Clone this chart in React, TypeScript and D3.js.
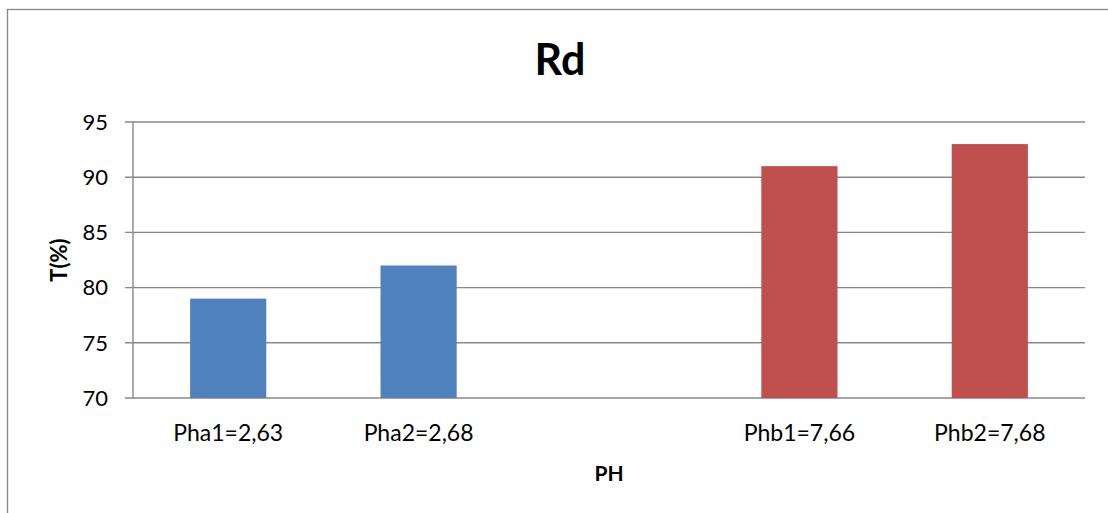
import React from "react";
import * as d3 from "d3";

// Transmittance readings per pH sample
const categories = ["Pha1=2,63", "Pha2=2,68", "", "Phb1=7,66", "Phb2=7,68"];
const acidValues: (number | null)[] = [79, 82, null, null, null];
const basicValues: (number | null)[] = [null, null, null, 91, 93];
const yTicks = [70, 75, 80, 85, 90, 95];

const chartTitle = "Rd";
const xTitle = "PH";
const yTitle = "T(%)";

const W = 1108;
const H = 513;
const plot = { left: 133, right: 1085, top: 122, bottom: 398 };
const FONT = "Lato, 'Open Sans', sans-serif";
const GRID = "#898989";

export default function App() {
  const x = d3
    .scaleBand<string>()
    .domain(categories)
    .range([plot.left, plot.right])
    .paddingInner(0.6)
    .paddingOuter(0.3);
  const y = d3.scaleLinear().domain([70, 95]).range([plot.bottom, plot.top]);

  const series = [
    { values: acidValues, color: "#4f81bd" },
    { values: basicValues, color: "#c0504d" },
  ];

  return (
    <svg
      width={W}
      height={H}
      style={{ position: "absolute", left: 0, top: 0, background: "#fff" }}
      fontFamily={FONT}
    >
      <rect x={7.5} y={9.5} width={W + 20} height={H + 20} fill="#fff" stroke="#868686" strokeWidth={1.3} />

      {/* gridlines and y ticks */}
      {yTicks.map((t) => (
        <g key={t}>
          <line x1={plot.left - 8} x2={plot.right} y1={y(t)} y2={y(t)} stroke={GRID} strokeWidth={1.4} />
          <text x={108} y={y(t)} dy="0.35em" textAnchor="end" fontSize={22} fill="#000">
            {t}
          </text>
        </g>
      ))}
      <line x1={plot.left} x2={plot.left} y1={plot.top} y2={plot.bottom} stroke={GRID} strokeWidth={1.4} />

      {/* bars */}
      {series.map((s, si) =>
        s.values.map((v, i) =>
          v == null ? null : (
            <rect
              key={`${si}-${i}`}
              x={x(categories[i])!}
              y={y(v)}
              width={x.bandwidth()}
              height={y(70) - y(v)}
              fill={s.color}
            />
          )
        )
      )}

      {/* category labels */}
      {categories.map((c) => (
        <text
          key={c || "gap"}
          x={x(c)! + x.bandwidth() / 2}
          y={441}
          textAnchor="middle"
          fontSize={23}
          fill="#000"
        >
          {c}
        </text>
      ))}

      <text x={(plot.left + plot.right) / 2} y={481} textAnchor="middle" fontSize={21} fontWeight="bold">
        {xTitle}
      </text>
      <text
        transform={`translate(67,${(plot.top + plot.bottom) / 2}) rotate(-90)`}
        textAnchor="middle"
        fontSize={22}
        fontWeight="bold"
      >
        {yTitle}
      </text>
      <text x={560} y={75} textAnchor="middle" fontSize={43} fontWeight="bold">
        {chartTitle}
      </text>
    </svg>
  );
}
